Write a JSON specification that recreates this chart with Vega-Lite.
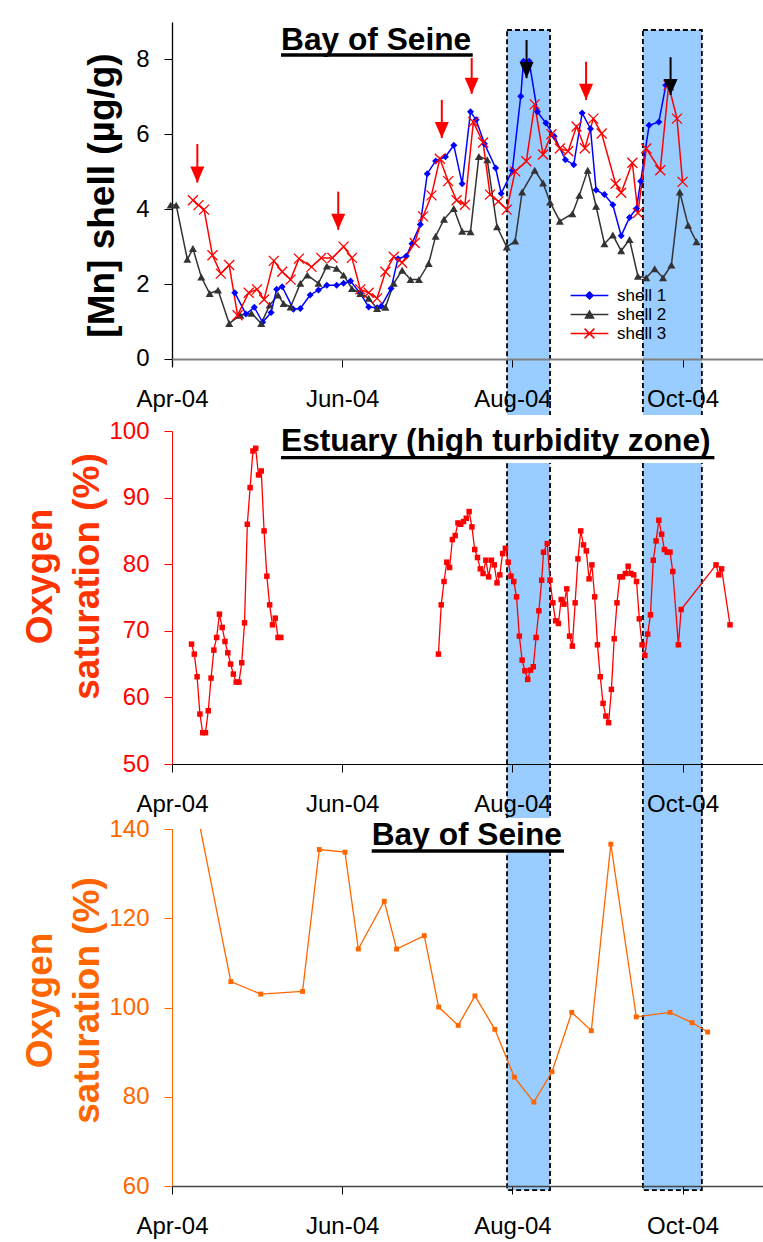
{
"$schema": "https://vega.github.io/schema/vega-lite/v6.json",
"autosize": {"type": "none"},
"padding": {"left": 172, "top": 22, "right": 591, "bottom": 1220},
"background": "#ffffff",
"bounds": "flush",
"spacing": 65,
"config": {
  "view": {"stroke": null},
  "font": "Liberation Sans",
  "axis": {"labelFont": "Liberation Sans", "titleFont": "Liberation Sans", "grid": false, "labelFontSize": 24, "tickSize": 8, "tickWidth": 1, "labelFlush": false, "labelOverlap": false},
  "axisX": {"labelPadding": 20, "labelColor": "#000000", "tickColor": "#000000"},
  "axisY": {"labelPadding": 15},
  "legend": {"labelFont": "Liberation Sans"}
},
"datasets": {
  "mn": [
    {"date": "2004-03-31T12:00", "series": "shell 2", "mn": 4.11},
    {"date": "2004-04-02T12:00", "series": "shell 2", "mn": 4.11},
    {"date": "2004-04-06T12:00", "series": "shell 2", "mn": 2.66},
    {"date": "2004-04-08T12:00", "series": "shell 2", "mn": 2.95},
    {"date": "2004-04-11T12:00", "series": "shell 2", "mn": 2.19},
    {"date": "2004-04-14T12:00", "series": "shell 2", "mn": 1.75},
    {"date": "2004-04-17T12:00", "series": "shell 2", "mn": 1.84},
    {"date": "2004-04-21T12:00", "series": "shell 2", "mn": 0.95},
    {"date": "2004-04-25T12:00", "series": "shell 2", "mn": 1.17},
    {"date": "2004-04-29T12:00", "series": "shell 2", "mn": 1.22},
    {"date": "2004-05-03T00:00", "series": "shell 2", "mn": 0.95},
    {"date": "2004-05-06T00:00", "series": "shell 2", "mn": 1.44},
    {"date": "2004-05-09T00:00", "series": "shell 2", "mn": 1.71},
    {"date": "2004-05-11T00:00", "series": "shell 2", "mn": 1.48},
    {"date": "2004-05-13T12:00", "series": "shell 2", "mn": 1.39},
    {"date": "2004-05-17T00:00", "series": "shell 2", "mn": 2.02},
    {"date": "2004-05-19T12:00", "series": "shell 2", "mn": 2.24},
    {"date": "2004-05-23T12:00", "series": "shell 2", "mn": 2.02},
    {"date": "2004-05-26T12:00", "series": "shell 2", "mn": 2.48},
    {"date": "2004-05-30T00:00", "series": "shell 2", "mn": 2.42},
    {"date": "2004-06-01T12:00", "series": "shell 2", "mn": 2.24},
    {"date": "2004-06-04T12:00", "series": "shell 2", "mn": 1.88},
    {"date": "2004-06-07T12:00", "series": "shell 2", "mn": 1.75},
    {"date": "2004-06-10T12:00", "series": "shell 2", "mn": 1.62},
    {"date": "2004-06-13T12:00", "series": "shell 2", "mn": 1.35},
    {"date": "2004-06-16T12:00", "series": "shell 2", "mn": 1.38},
    {"date": "2004-06-19T12:00", "series": "shell 2", "mn": 2.02},
    {"date": "2004-06-22T12:00", "series": "shell 2", "mn": 2.37},
    {"date": "2004-06-25T12:00", "series": "shell 2", "mn": 2.12},
    {"date": "2004-06-28T12:00", "series": "shell 2", "mn": 2.12},
    {"date": "2004-07-02T00:00", "series": "shell 2", "mn": 2.55},
    {"date": "2004-07-04T12:00", "series": "shell 2", "mn": 3.28},
    {"date": "2004-07-07T12:00", "series": "shell 2", "mn": 3.73},
    {"date": "2004-07-11T00:00", "series": "shell 2", "mn": 4.02},
    {"date": "2004-07-14T00:00", "series": "shell 2", "mn": 3.41},
    {"date": "2004-07-17T00:00", "series": "shell 2", "mn": 3.40},
    {"date": "2004-07-20T00:00", "series": "shell 2", "mn": 5.41},
    {"date": "2004-07-23T00:00", "series": "shell 2", "mn": 5.32},
    {"date": "2004-07-26T12:00", "series": "shell 2", "mn": 3.53},
    {"date": "2004-07-30T00:00", "series": "shell 2", "mn": 2.99},
    {"date": "2004-08-02T00:00", "series": "shell 2", "mn": 3.15},
    {"date": "2004-08-04T12:00", "series": "shell 2", "mn": 4.46},
    {"date": "2004-08-09T00:00", "series": "shell 2", "mn": 5.04},
    {"date": "2004-08-12T00:00", "series": "shell 2", "mn": 4.70},
    {"date": "2004-08-14T12:00", "series": "shell 2", "mn": 4.19},
    {"date": "2004-08-18T00:00", "series": "shell 2", "mn": 3.68},
    {"date": "2004-08-22T12:00", "series": "shell 2", "mn": 3.88},
    {"date": "2004-08-25T00:00", "series": "shell 2", "mn": 4.37},
    {"date": "2004-08-28T00:00", "series": "shell 2", "mn": 5.04},
    {"date": "2004-08-31T00:00", "series": "shell 2", "mn": 4.08},
    {"date": "2004-09-03T00:00", "series": "shell 2", "mn": 3.08},
    {"date": "2004-09-06T00:00", "series": "shell 2", "mn": 3.31},
    {"date": "2004-09-09T00:00", "series": "shell 2", "mn": 2.89},
    {"date": "2004-09-12T00:00", "series": "shell 2", "mn": 3.19},
    {"date": "2004-09-15T00:00", "series": "shell 2", "mn": 2.21},
    {"date": "2004-09-18T00:00", "series": "shell 2", "mn": 2.17},
    {"date": "2004-09-21T00:00", "series": "shell 2", "mn": 2.41},
    {"date": "2004-09-24T00:00", "series": "shell 2", "mn": 2.17},
    {"date": "2004-09-27T00:00", "series": "shell 2", "mn": 2.51},
    {"date": "2004-09-30T00:00", "series": "shell 2", "mn": 4.46},
    {"date": "2004-10-03T00:00", "series": "shell 2", "mn": 3.57},
    {"date": "2004-10-06T00:00", "series": "shell 2", "mn": 3.13},
    {"date": "2004-04-23T12:00", "series": "shell 1", "mn": 1.77},
    {"date": "2004-04-27T12:00", "series": "shell 1", "mn": 1.20},
    {"date": "2004-04-30T12:00", "series": "shell 1", "mn": 1.38},
    {"date": "2004-05-03T12:00", "series": "shell 1", "mn": 0.98},
    {"date": "2004-05-06T12:00", "series": "shell 1", "mn": 1.24},
    {"date": "2004-05-08T12:00", "series": "shell 1", "mn": 1.86},
    {"date": "2004-05-10T12:00", "series": "shell 1", "mn": 1.93},
    {"date": "2004-05-14T12:00", "series": "shell 1", "mn": 1.33},
    {"date": "2004-05-17T00:00", "series": "shell 1", "mn": 1.35},
    {"date": "2004-05-20T12:00", "series": "shell 1", "mn": 1.71},
    {"date": "2004-05-23T12:00", "series": "shell 1", "mn": 1.84},
    {"date": "2004-05-26T12:00", "series": "shell 1", "mn": 1.97},
    {"date": "2004-05-30T00:00", "series": "shell 1", "mn": 1.97},
    {"date": "2004-06-01T12:00", "series": "shell 1", "mn": 2.02},
    {"date": "2004-06-04T00:00", "series": "shell 1", "mn": 2.08},
    {"date": "2004-06-07T12:00", "series": "shell 1", "mn": 1.75},
    {"date": "2004-06-10T12:00", "series": "shell 1", "mn": 1.39},
    {"date": "2004-06-13T12:00", "series": "shell 1", "mn": 1.37},
    {"date": "2004-06-15T00:00", "series": "shell 1", "mn": 1.41},
    {"date": "2004-06-18T12:00", "series": "shell 1", "mn": 1.88},
    {"date": "2004-06-21T00:00", "series": "shell 1", "mn": 2.68},
    {"date": "2004-06-24T00:00", "series": "shell 1", "mn": 2.75},
    {"date": "2004-06-26T00:00", "series": "shell 1", "mn": 3.08},
    {"date": "2004-06-29T00:00", "series": "shell 1", "mn": 3.59},
    {"date": "2004-07-01T12:00", "series": "shell 1", "mn": 4.95},
    {"date": "2004-07-04T12:00", "series": "shell 1", "mn": 5.29},
    {"date": "2004-07-08T00:00", "series": "shell 1", "mn": 5.40},
    {"date": "2004-07-11T00:00", "series": "shell 1", "mn": 5.71},
    {"date": "2004-07-14T00:00", "series": "shell 1", "mn": 4.68},
    {"date": "2004-07-17T00:00", "series": "shell 1", "mn": 6.60},
    {"date": "2004-07-19T00:00", "series": "shell 1", "mn": 6.39},
    {"date": "2004-07-22T00:00", "series": "shell 1", "mn": 5.75},
    {"date": "2004-07-26T00:00", "series": "shell 1", "mn": 5.10},
    {"date": "2004-07-28T00:00", "series": "shell 1", "mn": 4.42},
    {"date": "2004-08-01T00:00", "series": "shell 1", "mn": 5.04},
    {"date": "2004-08-04T00:00", "series": "shell 1", "mn": 7.02},
    {"date": "2004-08-05T00:00", "series": "shell 1", "mn": 7.95},
    {"date": "2004-08-07T00:00", "series": "shell 1", "mn": 7.95},
    {"date": "2004-08-10T00:00", "series": "shell 1", "mn": 6.60},
    {"date": "2004-08-13T00:00", "series": "shell 1", "mn": 6.30},
    {"date": "2004-08-16T00:00", "series": "shell 1", "mn": 5.95},
    {"date": "2004-08-20T00:00", "series": "shell 1", "mn": 5.32},
    {"date": "2004-08-23T00:00", "series": "shell 1", "mn": 5.19},
    {"date": "2004-08-26T00:00", "series": "shell 1", "mn": 6.57},
    {"date": "2004-08-29T00:00", "series": "shell 1", "mn": 6.15},
    {"date": "2004-08-31T00:00", "series": "shell 1", "mn": 4.51},
    {"date": "2004-09-03T00:00", "series": "shell 1", "mn": 4.39},
    {"date": "2004-09-06T00:00", "series": "shell 1", "mn": 4.12},
    {"date": "2004-09-09T00:00", "series": "shell 1", "mn": 3.29},
    {"date": "2004-09-12T00:00", "series": "shell 1", "mn": 3.78},
    {"date": "2004-09-14T12:00", "series": "shell 1", "mn": 4.02},
    {"date": "2004-09-16T00:00", "series": "shell 1", "mn": 4.75},
    {"date": "2004-09-19T00:00", "series": "shell 1", "mn": 6.24},
    {"date": "2004-09-22T12:00", "series": "shell 1", "mn": 6.33},
    {"date": "2004-09-25T00:00", "series": "shell 1", "mn": 7.31},
    {"date": "2004-09-26T12:00", "series": "shell 1", "mn": 7.33},
    {"date": "2004-04-08T12:00", "series": "shell 3", "mn": 4.24},
    {"date": "2004-04-10T12:00", "series": "shell 3", "mn": 4.11},
    {"date": "2004-04-12T12:00", "series": "shell 3", "mn": 3.99},
    {"date": "2004-04-15T12:00", "series": "shell 3", "mn": 2.77},
    {"date": "2004-04-18T12:00", "series": "shell 3", "mn": 2.28},
    {"date": "2004-04-21T12:00", "series": "shell 3", "mn": 2.51},
    {"date": "2004-04-24T12:00", "series": "shell 3", "mn": 1.17},
    {"date": "2004-04-28T12:00", "series": "shell 3", "mn": 1.77},
    {"date": "2004-05-01T12:00", "series": "shell 3", "mn": 1.86},
    {"date": "2004-05-04T00:00", "series": "shell 3", "mn": 1.59},
    {"date": "2004-05-07T12:00", "series": "shell 3", "mn": 2.62},
    {"date": "2004-05-10T12:00", "series": "shell 3", "mn": 2.33},
    {"date": "2004-05-13T12:00", "series": "shell 3", "mn": 2.12},
    {"date": "2004-05-16T12:00", "series": "shell 3", "mn": 2.68},
    {"date": "2004-05-21T00:00", "series": "shell 3", "mn": 2.46},
    {"date": "2004-05-24T12:00", "series": "shell 3", "mn": 2.70},
    {"date": "2004-05-28T12:00", "series": "shell 3", "mn": 2.70},
    {"date": "2004-06-01T12:00", "series": "shell 3", "mn": 3.00},
    {"date": "2004-06-04T12:00", "series": "shell 3", "mn": 2.70},
    {"date": "2004-06-07T12:00", "series": "shell 3", "mn": 1.86},
    {"date": "2004-06-10T12:00", "series": "shell 3", "mn": 1.77},
    {"date": "2004-06-13T12:00", "series": "shell 3", "mn": 1.62},
    {"date": "2004-06-16T12:00", "series": "shell 3", "mn": 2.33},
    {"date": "2004-06-19T12:00", "series": "shell 3", "mn": 2.73},
    {"date": "2004-06-22T12:00", "series": "shell 3", "mn": 2.57},
    {"date": "2004-06-27T00:00", "series": "shell 3", "mn": 3.10},
    {"date": "2004-06-30T00:00", "series": "shell 3", "mn": 3.81},
    {"date": "2004-07-03T00:00", "series": "shell 3", "mn": 4.37},
    {"date": "2004-07-06T00:00", "series": "shell 3", "mn": 5.35},
    {"date": "2004-07-09T00:00", "series": "shell 3", "mn": 4.75},
    {"date": "2004-07-12T00:00", "series": "shell 3", "mn": 4.24},
    {"date": "2004-07-15T00:00", "series": "shell 3", "mn": 4.12},
    {"date": "2004-07-18T00:00", "series": "shell 3", "mn": 6.33},
    {"date": "2004-07-21T12:00", "series": "shell 3", "mn": 5.78},
    {"date": "2004-07-24T00:00", "series": "shell 3", "mn": 4.39},
    {"date": "2004-07-27T00:00", "series": "shell 3", "mn": 4.21},
    {"date": "2004-07-30T00:00", "series": "shell 3", "mn": 3.99},
    {"date": "2004-08-02T00:00", "series": "shell 3", "mn": 5.01},
    {"date": "2004-08-06T00:00", "series": "shell 3", "mn": 5.28},
    {"date": "2004-08-09T00:00", "series": "shell 3", "mn": 6.80},
    {"date": "2004-08-12T00:00", "series": "shell 3", "mn": 5.46},
    {"date": "2004-08-15T00:00", "series": "shell 3", "mn": 6.00},
    {"date": "2004-08-18T00:00", "series": "shell 3", "mn": 5.62},
    {"date": "2004-08-21T00:00", "series": "shell 3", "mn": 5.55},
    {"date": "2004-08-24T00:00", "series": "shell 3", "mn": 6.21},
    {"date": "2004-08-27T00:00", "series": "shell 3", "mn": 5.63},
    {"date": "2004-08-30T00:00", "series": "shell 3", "mn": 6.42},
    {"date": "2004-09-02T00:00", "series": "shell 3", "mn": 6.02},
    {"date": "2004-09-07T00:00", "series": "shell 3", "mn": 4.68},
    {"date": "2004-09-09T00:00", "series": "shell 3", "mn": 4.44},
    {"date": "2004-09-13T00:00", "series": "shell 3", "mn": 5.24},
    {"date": "2004-09-15T00:00", "series": "shell 3", "mn": 3.90},
    {"date": "2004-09-18T00:00", "series": "shell 3", "mn": 5.62},
    {"date": "2004-09-23T00:00", "series": "shell 3", "mn": 5.04},
    {"date": "2004-09-26T00:00", "series": "shell 3", "mn": 7.31},
    {"date": "2004-09-29T00:00", "series": "shell 3", "mn": 6.42},
    {"date": "2004-10-01T00:00", "series": "shell 3", "mn": 4.73}
  ],
  "arrows": [
    {"date": "2004-04-10T02:00", "top": 5.74, "tip": 4.71, "kind": "peak"},
    {"date": "2004-05-30T14:00", "top": 4.47, "tip": 3.45, "kind": "peak"},
    {"date": "2004-07-06T17:00", "top": 6.92, "tip": 5.90, "kind": "peak"},
    {"date": "2004-07-17T10:00", "top": 8.04, "tip": 7.08, "kind": "peak"},
    {"date": "2004-08-27T10:00", "top": 7.94, "tip": 6.92, "kind": "peak"},
    {"date": "2004-08-06T02:00", "top": 8.52, "tip": 7.50, "kind": "peak in hypoxic period"},
    {"date": "2004-09-26T17:00", "top": 8.06, "tip": 7.05, "kind": "peak in hypoxic period"}
  ],
  "bands": [
    {"date": "2004-07-30T02:00", "end": "2004-08-14T12:00"},
    {"date": "2004-09-16T19:00", "end": "2004-10-07T22:00"}
  ],
  "estuary": [
    {"date": "2004-04-08T00:00", "o2": 68.0, "run": "spring"},
    {"date": "2004-04-09T00:00", "o2": 66.5, "run": "spring"},
    {"date": "2004-04-10T00:00", "o2": 63.1, "run": "spring"},
    {"date": "2004-04-11T00:00", "o2": 57.5, "run": "spring"},
    {"date": "2004-04-12T00:00", "o2": 54.7, "run": "spring"},
    {"date": "2004-04-13T00:00", "o2": 54.7, "run": "spring"},
    {"date": "2004-04-14T00:00", "o2": 58.0, "run": "spring"},
    {"date": "2004-04-15T00:00", "o2": 62.9, "run": "spring"},
    {"date": "2004-04-16T00:00", "o2": 67.1, "run": "spring"},
    {"date": "2004-04-17T00:00", "o2": 69.0, "run": "spring"},
    {"date": "2004-04-18T00:00", "o2": 72.5, "run": "spring"},
    {"date": "2004-04-19T00:00", "o2": 70.5, "run": "spring"},
    {"date": "2004-04-20T00:00", "o2": 68.4, "run": "spring"},
    {"date": "2004-04-21T00:00", "o2": 66.7, "run": "spring"},
    {"date": "2004-04-22T00:00", "o2": 65.0, "run": "spring"},
    {"date": "2004-04-23T00:00", "o2": 63.5, "run": "spring"},
    {"date": "2004-04-24T00:00", "o2": 62.3, "run": "spring"},
    {"date": "2004-04-25T00:00", "o2": 62.3, "run": "spring"},
    {"date": "2004-04-26T00:00", "o2": 65.2, "run": "spring"},
    {"date": "2004-04-27T00:00", "o2": 71.2, "run": "spring"},
    {"date": "2004-04-28T00:00", "o2": 86.0, "run": "spring"},
    {"date": "2004-04-29T00:00", "o2": 91.5, "run": "spring"},
    {"date": "2004-04-30T00:00", "o2": 97.0, "run": "spring"},
    {"date": "2004-05-01T00:00", "o2": 97.4, "run": "spring"},
    {"date": "2004-05-02T00:00", "o2": 93.4, "run": "spring"},
    {"date": "2004-05-03T00:00", "o2": 94.0, "run": "spring"},
    {"date": "2004-05-04T00:00", "o2": 85.0, "run": "spring"},
    {"date": "2004-05-05T00:00", "o2": 78.2, "run": "spring"},
    {"date": "2004-05-06T00:00", "o2": 73.9, "run": "spring"},
    {"date": "2004-05-07T00:00", "o2": 70.9, "run": "spring"},
    {"date": "2004-05-08T00:00", "o2": 71.9, "run": "spring"},
    {"date": "2004-05-09T00:00", "o2": 69.0, "run": "spring"},
    {"date": "2004-05-10T00:00", "o2": 69.0, "run": "spring"},
    {"date": "2004-07-05T12:00", "o2": 66.5, "run": "summer"},
    {"date": "2004-07-06T12:00", "o2": 73.9, "run": "summer"},
    {"date": "2004-07-07T12:00", "o2": 77.4, "run": "summer"},
    {"date": "2004-07-08T12:00", "o2": 80.3, "run": "summer"},
    {"date": "2004-07-09T12:00", "o2": 79.5, "run": "summer"},
    {"date": "2004-07-10T12:00", "o2": 83.7, "run": "summer"},
    {"date": "2004-07-11T12:00", "o2": 84.3, "run": "summer"},
    {"date": "2004-07-12T12:00", "o2": 86.2, "run": "summer"},
    {"date": "2004-07-13T12:00", "o2": 86.0, "run": "summer"},
    {"date": "2004-07-14T12:00", "o2": 86.4, "run": "summer"},
    {"date": "2004-07-15T12:00", "o2": 86.9, "run": "summer"},
    {"date": "2004-07-16T12:00", "o2": 87.9, "run": "summer"},
    {"date": "2004-07-17T12:00", "o2": 85.6, "run": "summer"},
    {"date": "2004-07-18T12:00", "o2": 82.2, "run": "summer"},
    {"date": "2004-07-19T12:00", "o2": 81.0, "run": "summer"},
    {"date": "2004-07-20T12:00", "o2": 79.3, "run": "summer"},
    {"date": "2004-07-21T12:00", "o2": 78.6, "run": "summer"},
    {"date": "2004-07-22T12:00", "o2": 80.6, "run": "summer"},
    {"date": "2004-07-23T12:00", "o2": 78.1, "run": "summer"},
    {"date": "2004-07-24T12:00", "o2": 80.6, "run": "summer"},
    {"date": "2004-07-25T12:00", "o2": 79.9, "run": "summer"},
    {"date": "2004-07-26T12:00", "o2": 77.2, "run": "summer"},
    {"date": "2004-07-27T12:00", "o2": 78.4, "run": "summer"},
    {"date": "2004-07-28T12:00", "o2": 81.6, "run": "summer"},
    {"date": "2004-07-29T12:00", "o2": 82.4, "run": "summer"},
    {"date": "2004-07-30T12:00", "o2": 80.3, "run": "summer"},
    {"date": "2004-07-31T12:00", "o2": 78.2, "run": "summer"},
    {"date": "2004-08-01T12:00", "o2": 77.4, "run": "summer"},
    {"date": "2004-08-02T12:00", "o2": 75.1, "run": "summer"},
    {"date": "2004-08-03T12:00", "o2": 69.2, "run": "summer"},
    {"date": "2004-08-04T12:00", "o2": 65.6, "run": "summer"},
    {"date": "2004-08-05T12:00", "o2": 64.0, "run": "summer"},
    {"date": "2004-08-06T12:00", "o2": 62.7, "run": "summer"},
    {"date": "2004-08-07T12:00", "o2": 64.1, "run": "summer"},
    {"date": "2004-08-08T12:00", "o2": 64.6, "run": "summer"},
    {"date": "2004-08-09T12:00", "o2": 69.0, "run": "summer"},
    {"date": "2004-08-10T12:00", "o2": 73.0, "run": "summer"},
    {"date": "2004-08-11T12:00", "o2": 77.6, "run": "summer"},
    {"date": "2004-08-12T04:00", "o2": 81.8, "run": "summer"},
    {"date": "2004-08-13T12:00", "o2": 83.1, "run": "summer"},
    {"date": "2004-08-14T12:00", "o2": 77.6, "run": "summer"},
    {"date": "2004-08-15T12:00", "o2": 74.2, "run": "summer"},
    {"date": "2004-08-16T12:00", "o2": 71.5, "run": "summer"},
    {"date": "2004-08-17T12:00", "o2": 71.1, "run": "summer"},
    {"date": "2004-08-18T12:00", "o2": 74.7, "run": "summer"},
    {"date": "2004-08-19T12:00", "o2": 74.0, "run": "summer"},
    {"date": "2004-08-20T12:00", "o2": 76.3, "run": "summer"},
    {"date": "2004-08-21T12:00", "o2": 69.2, "run": "summer"},
    {"date": "2004-08-22T12:00", "o2": 67.7, "run": "summer"},
    {"date": "2004-08-23T12:00", "o2": 74.2, "run": "summer"},
    {"date": "2004-08-24T12:00", "o2": 80.8, "run": "summer"},
    {"date": "2004-08-25T12:00", "o2": 85.0, "run": "summer"},
    {"date": "2004-08-26T12:00", "o2": 82.9, "run": "summer"},
    {"date": "2004-08-27T12:00", "o2": 82.0, "run": "summer"},
    {"date": "2004-08-28T12:00", "o2": 77.8, "run": "summer"},
    {"date": "2004-08-29T12:00", "o2": 79.9, "run": "summer"},
    {"date": "2004-08-30T12:00", "o2": 75.1, "run": "summer"},
    {"date": "2004-08-31T12:00", "o2": 67.9, "run": "summer"},
    {"date": "2004-09-01T12:00", "o2": 63.1, "run": "summer"},
    {"date": "2004-09-02T12:00", "o2": 59.1, "run": "summer"},
    {"date": "2004-09-03T12:00", "o2": 57.2, "run": "summer"},
    {"date": "2004-09-04T12:00", "o2": 56.2, "run": "summer"},
    {"date": "2004-09-05T12:00", "o2": 61.2, "run": "summer"},
    {"date": "2004-09-06T12:00", "o2": 68.8, "run": "summer"},
    {"date": "2004-09-07T12:00", "o2": 74.2, "run": "summer"},
    {"date": "2004-09-08T12:00", "o2": 78.1, "run": "summer"},
    {"date": "2004-09-09T12:00", "o2": 78.1, "run": "summer"},
    {"date": "2004-09-10T12:00", "o2": 78.6, "run": "summer"},
    {"date": "2004-09-11T12:00", "o2": 79.7, "run": "summer"},
    {"date": "2004-09-12T12:00", "o2": 78.6, "run": "summer"},
    {"date": "2004-09-13T12:00", "o2": 78.4, "run": "summer"},
    {"date": "2004-09-14T12:00", "o2": 77.4, "run": "summer"},
    {"date": "2004-09-15T12:00", "o2": 71.8, "run": "summer"},
    {"date": "2004-09-16T12:00", "o2": 67.9, "run": "summer"},
    {"date": "2004-09-17T12:00", "o2": 66.3, "run": "summer"},
    {"date": "2004-09-18T12:00", "o2": 69.5, "run": "summer"},
    {"date": "2004-09-19T12:00", "o2": 72.4, "run": "summer"},
    {"date": "2004-09-20T12:00", "o2": 80.6, "run": "summer"},
    {"date": "2004-09-21T12:00", "o2": 83.5, "run": "summer"},
    {"date": "2004-09-22T12:00", "o2": 86.6, "run": "summer"},
    {"date": "2004-09-23T12:00", "o2": 84.5, "run": "summer"},
    {"date": "2004-09-24T12:00", "o2": 82.2, "run": "summer"},
    {"date": "2004-09-25T12:00", "o2": 81.8, "run": "summer"},
    {"date": "2004-09-26T12:00", "o2": 81.8, "run": "summer"},
    {"date": "2004-09-27T12:00", "o2": 78.9, "run": "summer"},
    {"date": "2004-09-29T12:00", "o2": 67.9, "run": "summer"},
    {"date": "2004-09-30T12:00", "o2": 73.2, "run": "summer"},
    {"date": "2004-10-13T00:00", "o2": 79.9, "run": "summer"},
    {"date": "2004-10-14T00:00", "o2": 78.4, "run": "summer"},
    {"date": "2004-10-15T00:00", "o2": 79.3, "run": "summer"},
    {"date": "2004-10-18T00:00", "o2": 70.9, "run": "summer"}
  ],
  "seine": [
    {"date": "2004-04-08T00:00", "o2": 150.0},
    {"date": "2004-04-22T02:00", "o2": 105.8},
    {"date": "2004-05-02T19:00", "o2": 103.0},
    {"date": "2004-05-17T19:00", "o2": 103.6},
    {"date": "2004-05-23T19:00", "o2": 135.4},
    {"date": "2004-06-02T00:00", "o2": 134.8},
    {"date": "2004-06-06T19:00", "o2": 113.1},
    {"date": "2004-06-16T02:00", "o2": 123.8},
    {"date": "2004-06-20T12:00", "o2": 113.1},
    {"date": "2004-06-30T10:00", "o2": 116.1},
    {"date": "2004-07-05T14:00", "o2": 100.1},
    {"date": "2004-07-12T14:00", "o2": 96.0},
    {"date": "2004-07-18T14:00", "o2": 102.6},
    {"date": "2004-07-25T17:00", "o2": 95.1},
    {"date": "2004-08-01T17:00", "o2": 84.4},
    {"date": "2004-08-08T17:00", "o2": 78.8},
    {"date": "2004-08-15T05:00", "o2": 85.6},
    {"date": "2004-08-22T07:00", "o2": 98.9},
    {"date": "2004-08-29T07:00", "o2": 94.8},
    {"date": "2004-09-05T07:00", "o2": 136.6},
    {"date": "2004-09-14T10:00", "o2": 97.9},
    {"date": "2004-09-26T12:00", "o2": 98.9},
    {"date": "2004-10-04T10:00", "o2": 96.6},
    {"date": "2004-10-10T00:00", "o2": 94.5}
  ],
  "title_top": [
    {"date": "2004-05-10T02:00", "end": "2004-07-17T19:00", "label": "Bay of Seine", "baseline": 8.252, "underline": 8.119}
  ],
  "title_mid": [
    {"date": "2004-05-10T02:00", "end": "2004-10-12T10:00", "label": "Estuary (high turbidity zone)", "baseline": 97.0, "underline": 96.0, "boxTop": 102.4, "boxBottom": 95.2}
  ],
  "title_bot": [
    {"date": "2004-06-11T14:00", "end": "2004-08-19T12:00", "label": "Bay of Seine", "baseline": 136.41, "underline": 135.07, "boxTop": 142.47, "boxBottom": 134.84}
  ]
},
"vconcat": [
  {
    "width": 591,
    "height": 344,
    "encoding": {
      "x": {
        "field": "date", "type": "temporal",
        "scale": {"domain": [{"year": 2004, "month": 4, "date": 1}, {"year": 2004, "month": 10, "date": 29, "hours": 20}]},
        "axis": {"values": [{"year": 2004, "month": 4, "date": 1}, {"year": 2004, "month": 6, "date": 1}, {"year": 2004, "month": 8, "date": 1}, {"year": 2004, "month": 10, "date": 1}], "format": "%b-%y", "title": null, "offset": -7, "domainColor": "#808080", "domainWidth": 2, "zindex": 1}
      }
    },
    "layer": [
      {
        "data": {"name": "bands"},
        "mark": {"type": "rect", "fill": "#99ccff", "stroke": "#000000", "strokeWidth": 1.8, "strokeDash": [5, 3]},
        "encoding": {
          "x2": {"field": "end"},
          "y": {"datum": 8.786, "type": "quantitative", "scale": {"domain": [-0.187, 9], "nice": false, "zero": false}},
          "y2": {"datum": -22.196}
        }
      },
      {
        "data": {"name": "title_top"},
        "mark": {"type": "text", "font": "Liberation Sans", "fontSize": 31.7, "fontWeight": "bold", "align": "left", "baseline": "alphabetic", "color": "#000000"},
        "encoding": {
          "y": {"field": "baseline", "type": "quantitative", "scale": {"domain": [-0.187, 9], "nice": false, "zero": false}, "title": "[Mn] shell (µg/g)"},
          "text": {"field": "label"}
        }
      },
      {
        "data": {"name": "title_top"},
        "mark": {"type": "rule", "strokeWidth": 3.3, "color": "#000000"},
        "encoding": {
          "x2": {"field": "end"},
          "y": {"field": "underline", "type": "quantitative", "scale": {"domain": [-0.187, 9], "nice": false, "zero": false}, "title": "[Mn] shell (µg/g)"}
        }
      },
      {
        "data": {"name": "mn"},
        "mark": {"type": "line", "strokeWidth": 1.5},
        "encoding": {
          "y": {
            "field": "mn", "type": "quantitative",
            "scale": {"domain": [-0.187, 9], "nice": false, "zero": false},
            "axis": {"values": [0, 2, 4, 6, 8], "title": "[Mn] shell (µg/g)", "domainColor": "#000000", "domainWidth": 1.3, "tickColor": "#000000", "labelColor": "#000000", "titleColor": "#000000", "titleFontSize": 37, "titleFontWeight": "bold", "titleAngle": -90, "titleAlign": "center", "titleBaseline": "alphabetic", "titleX": -59, "titleY": 173}
          },
          "color": {
            "field": "series", "type": "nominal",
            "scale": {"domain": ["shell 1", "shell 2", "shell 3"], "range": ["#0000ff", "#333333", "#ff0000"]},
            "legend": {
              "orient": "none", "legendX": 409, "legendY": 265, "title": null, "padding": 0,
              "labelFontSize": 17, "labelColor": "#000000", "labelOffset": 19, "rowPadding": 1, "symbolSize": 49, "symbolStrokeWidth": 1.5,
              "encode": {"symbols": {"update": {
                "shape": {"signal": "datum.value === 'shell 1' ? 'M-5.4,0L5.4,0M0,-1L1,0L0,1L-1,0Z' : datum.value === 'shell 2' ? 'M-5.4,0L5.4,0M0,-1L1.15,1L-1.15,1Z' : 'M-5.4,0L5.4,0M-1.4,-1.4L1.4,1.4M-1.4,1.4L1.4,-1.4'"},
                "fill": {"signal": "datum.value === 'shell 1' ? '#0000ff' : datum.value === 'shell 2' ? '#333333' : 'transparent'"},
                "stroke": {"signal": "datum.value === 'shell 1' ? '#0000ff' : datum.value === 'shell 2' ? '#333333' : '#ff0000'"},
                "strokeWidth": {"value": 1.5},
                "opacity": {"value": 1}
              }}}
            }
          }
        }
      },
      {
        "data": {"name": "mn"},
        "transform": [{"filter": "datum.series === 'shell 1'"}],
        "mark": {"type": "point", "shape": "M0,-1L1,0L0,1L-1,0Z", "size": 49, "filled": true, "color": "#0000ff", "opacity": 1},
        "encoding": {"y": {"field": "mn", "type": "quantitative", "scale": {"domain": [-0.187, 9], "nice": false, "zero": false}, "title": "[Mn] shell (µg/g)"}}
      },
      {
        "data": {"name": "mn"},
        "transform": [{"filter": "datum.series === 'shell 2'"}],
        "mark": {"type": "point", "shape": "triangle-up", "size": 64, "filled": true, "color": "#333333", "opacity": 1},
        "encoding": {"y": {"field": "mn", "type": "quantitative", "scale": {"domain": [-0.187, 9], "nice": false, "zero": false}, "title": "[Mn] shell (µg/g)"}}
      },
      {
        "data": {"name": "mn"},
        "transform": [{"filter": "datum.series === 'shell 3'"}],
        "mark": {"type": "point", "shape": "M-1,-1L1,1M-1,1L1,-1", "size": 100, "filled": false, "color": "#ff0000", "strokeWidth": 1.3, "opacity": 1},
        "encoding": {"y": {"field": "mn", "type": "quantitative", "scale": {"domain": [-0.187, 9], "nice": false, "zero": false}, "title": "[Mn] shell (µg/g)"}}
      },
      {
        "data": {"name": "arrows"},
        "mark": {"type": "rule", "strokeWidth": 2},
        "encoding": {
          "y": {"field": "top", "type": "quantitative", "scale": {"domain": [-0.187, 9], "nice": false, "zero": false}, "title": "[Mn] shell (µg/g)"},
          "y2": {"field": "tip"},
          "stroke": {"field": "kind", "type": "nominal", "scale": {"domain": ["peak", "peak in hypoxic period"], "range": ["#ff0000", "#000000"]}, "legend": null}
        }
      },
      {
        "data": {"name": "arrows"},
        "mark": {"type": "point", "shape": "M-1,-1.15L1,-1.15L0,1.15Z", "size": 196, "filled": true, "yOffset": -8, "opacity": 1},
        "encoding": {
          "y": {"field": "tip", "type": "quantitative", "scale": {"domain": [-0.187, 9], "nice": false, "zero": false}, "title": "[Mn] shell (µg/g)"},
          "fill": {"field": "kind", "type": "nominal", "scale": {"domain": ["peak", "peak in hypoxic period"], "range": ["#ff0000", "#000000"]}, "legend": null}
        }
      }
    ]
  },
  {
    "width": 591,
    "height": 333,
    "encoding": {
      "x": {
        "field": "date", "type": "temporal",
        "scale": {"domain": [{"year": 2004, "month": 4, "date": 1}, {"year": 2004, "month": 10, "date": 29, "hours": 20}]},
        "axis": {"values": [{"year": 2004, "month": 4, "date": 1}, {"year": 2004, "month": 6, "date": 1}, {"year": 2004, "month": 8, "date": 1}, {"year": 2004, "month": 10, "date": 1}], "format": "%b-%y", "title": null, "domainColor": "#000000", "domainWidth": 1, "zindex": 1}
      }
    },
    "layer": [
      {
        "data": {"name": "title_mid"},
        "mark": {"type": "rect", "fill": "#ffffff"},
        "encoding": {
          "x2": {"field": "end"},
          "y": {"field": "boxTop", "type": "quantitative", "scale": {"domain": [50, 100], "nice": false, "zero": false}, "title": ["Oxygen", "saturation (%)"]},
          "y2": {"field": "boxBottom"}
        }
      },
      {
        "data": {"name": "title_mid"},
        "mark": {"type": "text", "font": "Liberation Sans", "fontSize": 31.7, "fontWeight": "bold", "align": "left", "baseline": "alphabetic", "color": "#000000"},
        "encoding": {
          "y": {"field": "baseline", "type": "quantitative", "scale": {"domain": [50, 100], "nice": false, "zero": false}, "title": ["Oxygen", "saturation (%)"]},
          "text": {"field": "label"}
        }
      },
      {
        "data": {"name": "title_mid"},
        "mark": {"type": "rule", "strokeWidth": 3.3, "color": "#000000"},
        "encoding": {
          "x2": {"field": "end"},
          "y": {"field": "underline", "type": "quantitative", "scale": {"domain": [50, 100], "nice": false, "zero": false}, "title": ["Oxygen", "saturation (%)"]}
        }
      },
      {
        "data": {"name": "estuary"},
        "mark": {"type": "line", "color": "#ff0000", "strokeWidth": 1.3},
        "encoding": {
          "y": {
            "field": "o2", "type": "quantitative",
            "scale": {"domain": [50, 100], "nice": false, "zero": false},
            "axis": {"values": [50, 60, 70, 80, 90, 100], "title": ["Oxygen", "saturation (%)"], "domainColor": "#ff0000", "tickColor": "#ff0000", "labelColor": "#ff0000", "titleColor": "#ff3300", "titleFontSize": 37, "titleFontWeight": "bold", "titleLineHeight": 47, "titleAngle": -90, "titleAlign": "center", "titleBaseline": "alphabetic", "titleX": -121, "titleY": 145}
          },
          "detail": {"field": "run", "type": "nominal"}
        }
      },
      {
        "data": {"name": "estuary"},
        "mark": {"type": "point", "shape": "square", "size": 30, "filled": true, "color": "#ff0000", "opacity": 1},
        "encoding": {"y": {"field": "o2", "type": "quantitative", "scale": {"domain": [50, 100], "nice": false, "zero": false}, "title": ["Oxygen", "saturation (%)"]}}
      }
    ]
  },
  {
    "width": 591,
    "height": 357,
    "encoding": {
      "x": {
        "field": "date", "type": "temporal",
        "scale": {"domain": [{"year": 2004, "month": 4, "date": 1}, {"year": 2004, "month": 10, "date": 29, "hours": 20}]},
        "axis": {"values": [{"year": 2004, "month": 4, "date": 1}, {"year": 2004, "month": 6, "date": 1}, {"year": 2004, "month": 8, "date": 1}, {"year": 2004, "month": 10, "date": 1}], "format": "%b-%y", "title": null, "domainColor": "#444444", "domainWidth": 1.3, "zindex": 1}
      }
    },
    "layer": [
      {
        "data": {"name": "title_bot"},
        "mark": {"type": "rect", "fill": "#ffffff"},
        "encoding": {
          "x2": {"field": "end"},
          "y": {"field": "boxTop", "type": "quantitative", "scale": {"domain": [60, 140], "nice": false, "zero": false}, "title": ["Oxygen", "saturation (%)"]},
          "y2": {"field": "boxBottom"}
        }
      },
      {
        "data": {"name": "title_bot"},
        "mark": {"type": "text", "font": "Liberation Sans", "fontSize": 31.7, "fontWeight": "bold", "align": "left", "baseline": "alphabetic", "color": "#000000"},
        "encoding": {
          "y": {"field": "baseline", "type": "quantitative", "scale": {"domain": [60, 140], "nice": false, "zero": false}, "title": ["Oxygen", "saturation (%)"]},
          "text": {"field": "label"}
        }
      },
      {
        "data": {"name": "title_bot"},
        "mark": {"type": "rule", "strokeWidth": 3.3, "color": "#000000"},
        "encoding": {
          "x2": {"field": "end"},
          "y": {"field": "underline", "type": "quantitative", "scale": {"domain": [60, 140], "nice": false, "zero": false}, "title": ["Oxygen", "saturation (%)"]}
        }
      },
      {
        "data": {"name": "seine"},
        "mark": {"type": "line", "color": "#ff6600", "strokeWidth": 1.3, "clip": true},
        "encoding": {
          "y": {
            "field": "o2", "type": "quantitative",
            "scale": {"domain": [60, 140], "nice": false, "zero": false},
            "axis": {"values": [60, 80, 100, 120, 140], "title": ["Oxygen", "saturation (%)"], "domainColor": "#ff6600", "tickColor": "#ff6600", "labelColor": "#ff6600", "titleColor": "#ff6600", "titleFontSize": 37, "titleFontWeight": "bold", "titleLineHeight": 47, "titleAngle": -90, "titleAlign": "center", "titleBaseline": "alphabetic", "titleX": -121, "titleY": 171}
          }
        }
      },
      {
        "data": {"name": "seine"},
        "mark": {"type": "point", "shape": "square", "size": 24, "filled": true, "color": "#ff6600", "opacity": 1, "clip": true},
        "encoding": {"y": {"field": "o2", "type": "quantitative", "scale": {"domain": [60, 140], "nice": false, "zero": false}, "title": ["Oxygen", "saturation (%)"]}}
      }
    ]
  }
]
}
